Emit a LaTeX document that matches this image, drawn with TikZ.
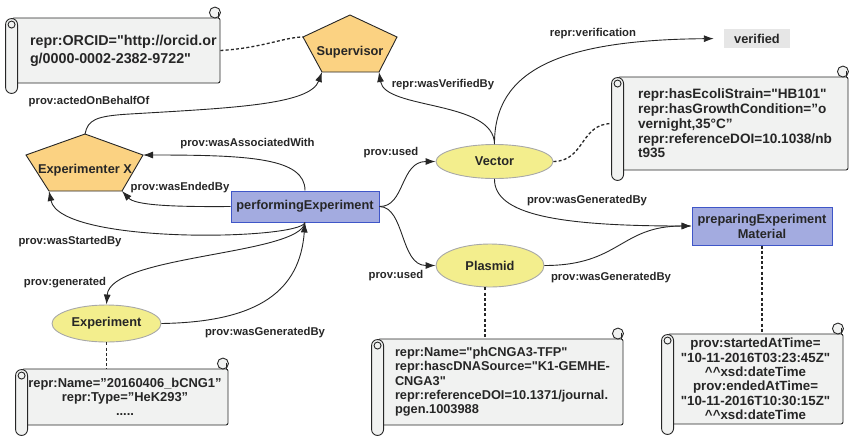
\documentclass[tikz,border=0pt]{standalone}
\usepackage{fontspec}
\setmainfont{Liberation Sans}[Ligatures=TeXOff]
\usetikzlibrary{shapes.geometric,arrows.meta}
\exhyphenpenalty=10000
\hyphenpenalty=10000

\definecolor{agentfill}{HTML}{FBD282}
\definecolor{entityfill}{HTML}{F3EE8D}
\definecolor{entityline}{HTML}{A8A8A8}
\definecolor{actfill}{HTML}{A3ABE0}
\definecolor{actline}{HTML}{3F56C8}
\definecolor{notefill}{HTML}{F1F2F1}
\definecolor{valfill}{HTML}{E6E6E6}
\definecolor{inkcol}{HTML}{262626}

% left roll and top-right curl of a scroll note
\newcommand{\scrollends}[1]{%
  \draw[scrolledge] ([shift={(-5.5pt,5pt)}]#1.north east) circle (5.5pt);
  \draw[scrolledge, fill=none] ([shift={(-2.5pt,6pt)}]#1.north east) -- ([shift={(-2.5pt,0pt)}]#1.north east);
  \draw[scrolledge, rounded corners=6pt] ([shift={(-6pt,-1pt)}]#1.north west) rectangle ([shift={(6pt,-10pt)}]#1.south west);
  \draw[scrolledge] ([shift={(0pt,-7pt)}]#1.north west) circle (3.5pt);
}

\begin{document}
\begin{tikzpicture}[x=1pt, y=-1pt, >={Latex[length=10pt,width=7pt]},
  agent/.style={draw=inkcol, fill=agentfill, line width=0.9pt},
  shapetext/.style={inner sep=0pt, text=inkcol, font=\fontsize{12.8}{15}\selectfont\bfseries},
  entity/.style={shapetext, ellipse, draw=entityline, fill=entityfill, line width=0.9pt},
  activity/.style={shapetext, rectangle, draw=actline, fill=actfill, line width=1pt},
  valbox/.style={shapetext, rectangle, fill=valfill},
  note/.style={rectangle, draw=inkcol, fill=notefill, rounded corners=2pt, line width=0.9pt, inner ysep=0pt, text=inkcol},
  scrolledge/.style={draw=inkcol, fill=notefill, line width=0.9pt},
  rel/.style={->, draw=inkcol, line width=0.9pt},
  attach/.style={draw=inkcol, line width=1.3pt, dash pattern=on 3pt off 2.2pt},
  lbl/.style={inner sep=0pt, text=inkcol, font=\fontsize{11.3}{13}\selectfont\bfseries}]

  \useasboundingbox (0,0) rectangle (850,437);

  % --- 1. agents (pentagons) ---
  \coordinate (sup-t) at (350,15);
  \coordinate (sup-r) at (397,37);
  \coordinate (sup-br) at (379,72);
  \coordinate (sup-bl) at (322,72);
  \coordinate (sup-l) at (303,37);
  \draw[agent] (sup-t) -- (sup-r) -- (sup-br) -- (sup-bl) -- (sup-l) -- cycle;
  \node[shapetext] (sup) at (350,52) {Supervisor};

  \coordinate (expx-t) at (85,134);
  \coordinate (expx-r) at (143,155);
  \coordinate (expx-br) at (122,191);
  \coordinate (expx-bl) at (49,191);
  \coordinate (expx-l) at (26,155);
  \draw[agent] (expx-t) -- (expx-r) -- (expx-br) -- (expx-bl) -- (expx-l) -- cycle;
  \node[shapetext] (expx) at (85,170) {Experimenter X};

  % --- 2. activities and entities ---
  \node[activity, minimum width=148pt, minimum height=31pt] (perf) at (305,206.5) {performingExperiment};
  \node[activity, minimum width=140pt, minimum height=38pt, align=center] (prep) at (762,226) {preparingExperiment\\Material};

  \node[entity, minimum width=117pt, minimum height=34pt] (vector) at (494.5,161.5) {Vector};
  \node[entity, minimum width=108pt, minimum height=43pt] (plasmid) at (490,265.5) {Plasmid};
  \node[entity, minimum width=109pt, minimum height=37pt] (experiment) at (106.5,323.5) {Experiment};

  \node[valbox, minimum width=66pt, minimum height=19pt] (verified) at (757,38.5) {verified};

  % --- 3. scroll notes ---
  \node[note, minimum width=208pt, minimum height=65pt, text width=172pt, inner xsep=18pt, align=left,
        font=\fontsize{14.3}{18}\selectfont\bfseries] (orcid) at (116,50.5)
    {repr:ORCID="http://orcid.or\\g/0000-0002-2382-9722"};
  \scrollends{orcid}

  \node[note, minimum width=230pt, minimum height=93pt, text width=190pt, inner xsep=20pt, align=left,
        font=\fontsize{13.6}{14.7}\selectfont\bfseries] (ecoli) at (733,123.5)
    {repr:hasEcoliStrain="HB101"\\repr:hasGrowthCondition=”o\\vernight,35°C”\\repr:referenceDOI=10.1038/nb\\t935};
  \scrollends{ecoli}

  \node[note, minimum width=245pt, minimum height=86pt, text width=211pt, inner xsep=17pt, align=left,
        font=\fontsize{12.8}{14.3}\selectfont\bfseries] (pnote) at (500.5,382)
    {repr:Name="phCNGA3-TFP"\\repr:hascDNASource="K1-GEMHE-\\CNGA3"\\repr:referenceDOI=10.1371/journal.\\pgen.1003988};
  \scrollends{pnote}

  \node[note, minimum width=175pt, minimum height=90pt, align=center,
        font=\fontsize{13.3}{14.4}\selectfont\bfseries] (tnote) at (755.5,379)
    {prov:startedAtTime=\\"10-11-2016T03:23:45Z"\\\textasciicircum\textasciicircum xsd:dateTime\\
     prov:endedAtTime=\\"10-11-2016T10:30:15Z"\\\textasciicircum\textasciicircum xsd:dateTime};
  \scrollends{tnote}

  \node[note, minimum width=206pt, minimum height=56pt, align=center,
        font=\fontsize{12.9}{14}\selectfont\bfseries] (enote) at (125,397)
    {repr:Name=”20160406\_bCNG1”\\repr:Type=”HeK293”\\.....};
  \scrollends{enote}

  % --- 4. relations ---
  \draw[rel] (expx-t) .. controls (88,120) and (95,116) .. (130,114)
    .. controls (230,108) and (310,105) .. (sup-bl);
  \draw[rel] (perf.north) .. controls (305,158) and (250,155) .. (expx-r);
  \draw[rel] (perf.west) .. controls (170,207) and (135,205) .. (expx-br);
  \draw[rel] (perf.south) .. controls (300,240) and (60,245) .. (expx-bl);
  \draw[rel] (perf.south) .. controls (300,255) and (110,255) .. (experiment.north);
  \draw[rel] (experiment.east) .. controls (260,322) and (300,290) .. (perf.south);

  \draw[rel] (vector.north) .. controls (494,100) and (385,110) .. (sup-br);
  \draw[rel, shorten >=10pt] (vector.north) .. controls (494,70) and (560,40) .. (verified.west);
  \draw[rel] (perf.east) .. controls (405,207) and (400,161.5) .. (vector.west);
  \draw[rel] (perf.east) .. controls (405,207) and (400,265.5) .. (plasmid.west);
  \draw[rel] (vector.south) .. controls (494,215) and (560,226) .. (prep.west);
  \draw[rel] (plasmid.east) .. controls (620,265.5) and (620,226) .. (prep.west);

  % dotted attachments of the notes
  \draw[attach] (orcid.east) .. controls (262,48) and (285,37) .. (sup-l);
  \draw[attach] (vector.east) .. controls (585,161) and (580,124) .. ([xshift=-6pt]ecoli.west);
  \draw[attach] ([xshift=-5pt]plasmid.south) -- ([xshift=-5pt]plasmid.south |- pnote.north);
  \draw[attach] (prep.south) -- (prep.south |- tnote.north);
  \draw[attach] (experiment.south) -- (experiment.south |- enote.north);

  % --- 5. relation labels ---
  \node[lbl] (l-acted) at (89,102) {prov:actedOnBehalfOf};
  \node[lbl] (l-assoc) at (247.5,144) {prov:wasAssociatedWith};
  \node[lbl] (l-ended) at (180,188) {prov:wasEndedBy};
  \node[lbl] (l-started) at (70,242) {prov:wasStartedBy};
  \node[lbl] (l-generated) at (65,283) {prov:generated};
  \node[lbl] (l-expgen) at (265,333) {prov:wasGeneratedBy};
  \node[lbl] (l-verifiedby) at (443,85) {repr:wasVerifiedBy};
  \node[lbl] (l-verif) at (593,34) {repr:verification};
  \node[lbl] (l-usedv) at (391,153) {prov:used};
  \node[lbl] (l-usedp) at (396,276) {prov:used};
  \node[lbl] (l-vecgen) at (587,201) {prov:wasGeneratedBy};
  \node[lbl] (l-plagen) at (611,278) {prov:wasGeneratedBy};

\end{tikzpicture}
\end{document}
